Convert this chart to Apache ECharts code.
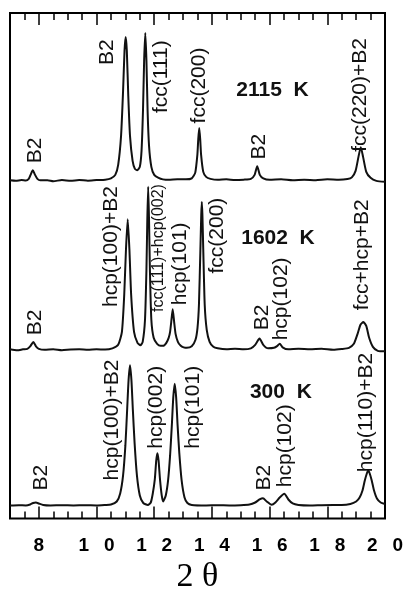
<!DOCTYPE html>
<html><head><meta charset="utf-8">
<script src="https://cdn.jsdelivr.net/npm/echarts@6/dist/echarts.min.js"></script>
<style>html,body{margin:0;padding:0;background:#fff}#c{width:407px;height:589px}</style>
</head><body><div id="c"></div>
<script>
// ---- data ----
const xTicks = [8, 10, 12, 14, 16, 18, 20];
const xTickLabels = ['8', '10', '12', '14', '16', '18', '20'];
const axisTitle = '2 θ';
const tempNames = ['2115  K', '1602  K', '300  K'];
// vertical offsets of the three stacked patterns (same units as intensity)
const offsets = [337.3, 168.5, 13];

// [2θ, intensity above baseline]
const trace2115 = [[7.0,0.5],[7.2,0],[7.4,0.8],[7.55,0.3],[7.65,2],[7.72,6.5],[7.79,10.7],[7.86,6.5],[7.95,2],[8.05,0.5],[8.3,0.7],[8.5,-0.3],[8.8,0.8],[9.1,0],[9.4,0.9],[9.7,0.2],[10.0,0.8],[10.3,1.2],[10.5,2.5],[10.65,6],[10.75,16],[10.85,45],[10.92,90],[10.97,130],[11.01,143.7],[11.05,130],[11.10,85],[11.16,45],[11.25,20],[11.33,12],[11.41,10.7],[11.50,14],[11.56,30],[11.61,70],[11.65,120],[11.69,147.7],[11.73,120],[11.77,70],[11.82,35],[11.90,14],[12.0,6],[12.15,3],[12.3,1.5],[12.5,1],[12.8,1.5],[13.1,1.5],[13.3,2.5],[13.42,8],[13.495,26],[13.527,42],[13.56,52.7],[13.593,42],[13.625,26],[13.70,9],[13.8,4],[13.95,2],[14.2,1],[14.5,1.5],[14.8,0.8],[15.1,1.2],[15.35,2],[15.48,6],[15.57,14.7],[15.66,6],[15.78,2.5],[16.0,1],[16.4,1.5],[16.8,0.5],[17.2,1.2],[17.6,0.6],[18.0,1.5],[18.4,1],[18.7,1.8],[18.85,3.5],[18.98,10],[19.08,24],[19.16,33.7],[19.24,24],[19.35,9],[19.5,3],[19.7,0],[20.0,-1]];

const trace1602 = [[7.0,0.5],[7.25,-0.5],[7.45,0.5],[7.6,1],[7.7,3.5],[7.81,7.8],[7.9,3.5],[8.0,1],[8.2,0],[8.5,0.5],[8.8,-0.5],[9.1,0.3],[9.4,0.5],[9.7,0],[10.0,0.5],[10.3,0.3],[10.55,1.5],[10.75,5],[10.88,18],[10.96,55],[11.02,100],[11.08,130.5],[11.14,100],[11.20,55],[11.30,18],[11.42,7],[11.52,4.5],[11.60,8],[11.68,30],[11.73,80],[11.76,130],[11.79,162.8],[11.82,130],[11.85,80],[11.90,30],[11.98,12],[12.10,6],[12.22,4],[12.31,4],[12.42,7],[12.50,12],[12.55,18],[12.59,28],[12.64,40.5],[12.69,28],[12.74,16],[12.82,8],[12.92,4],[13.02,2.5],[13.13,2],[13.3,3.5],[13.43,10],[13.50,22],[13.55,45],[13.60,100],[13.63,135],[13.65,147.8],[13.67,135],[13.70,100],[13.75,45],[13.82,20],[13.92,8],[14.05,3],[14.2,1.5],[14.5,0.5],[14.8,1],[15.1,0.5],[15.35,1.5],[15.5,5],[15.65,11.2],[15.78,5],[15.95,1.5],[16.15,2],[16.27,4],[16.35,6.2],[16.45,2.5],[16.65,0.5],[17.0,1],[17.4,0.5],[17.8,1],[18.2,0],[18.5,0.8],[18.75,2],[18.92,6],[19.05,16],[19.15,25],[19.25,27.8],[19.35,24],[19.45,12],[19.58,3],[19.75,-1],[20.0,-1.5]];

const trace300 = [[7.0,0],[7.3,0.3],[7.55,0],[7.7,1],[7.8,2.5],[7.9,3],[8.0,2],[8.15,0.5],[8.4,0],[8.8,0.3],[9.2,0],[9.6,0.3],[10.0,0],[10.3,0.5],[10.5,1],[10.7,4],[10.82,12],[10.92,30],[11.0,60],[11.06,95],[11.11,125],[11.16,140],[11.21,125],[11.26,95],[11.32,62],[11.40,30],[11.50,10],[11.62,2.5],[11.78,0.5],[11.88,3],[11.95,12],[12.02,26],[12.07,45],[12.11,52.3],[12.15,45],[12.20,26],[12.26,10],[12.31,4],[12.4,10],[12.48,25],[12.55,50],[12.61,80],[12.66,108],[12.71,121.7],[12.76,108],[12.81,80],[12.87,52],[12.95,25],[13.05,8],[13.15,2.5],[13.3,0.5],[13.8,0],[14.2,0.3],[14.6,0],[15.0,0.3],[15.3,1],[15.5,3],[15.65,6],[15.77,7.3],[15.9,4],[16.07,0.7],[16.2,3],[16.35,8],[16.51,11.7],[16.65,6],[16.8,2],[17.0,0.5],[17.4,0],[17.8,0.3],[18.2,0.5],[18.5,0.5],[18.8,1.5],[19.0,4],[19.12,8],[19.22,15],[19.3,25],[19.37,32],[19.42,35],[19.47,32],[19.54,25],[19.62,15],[19.72,7],[19.85,3],[20.0,1.5]];

// peak annotations: [2θ, height above baseline where text starts, text]
const labels2115 = [[7.87,17.7,'B2'],[10.38,115.7,'B2'],[12.25,67.7,'fcc(111)'],[13.55,57.4,'fcc(200)'],[15.63,21.4,'B2'],[19.13,29,'fcc(220)+B2']];
const labels1602 = [[7.89,14.5,'B2'],[10.52,42.8,'hcp(100)+B2'],[12.89,44.5,'hcp(101)'],[14.18,76.2,'fcc(200)'],[15.73,19.5,'B2'],[16.41,9.5,'hcp(102)'],[19.22,39.5,'fcc+hcp+B2']];
const labels1602small = [[12.16,37.8,'fcc(111)+hcp(002)']];
const labels300 = [[8.07,15,'B2'],[10.54,25,'hcp(100)+B2'],[12.08,56.7,'hcp(002)'],[13.34,56.7,'hcp(101)'],[15.81,15,'B2'],[16.53,18.3,'hcp(102)'],[19.36,33.3,'hcp(110)+B2']];
// temperature tags: [2θ, height above baseline]
const tempPos = [[16.10,90.7],[16.29,111.2],[16.39,113.3]];

// ---- chart ----
const traces = [trace2115, trace1602, trace300];
const SANS = '"Liberation Sans", Arial, sans-serif';

function lineSeries(tr, off) {
  return {
    type: 'line', xAxisIndex: 0, yAxisIndex: 0, symbol: 'none', smooth: 0.2,
    lineStyle: { color: '#111', width: 2 },
    data: tr.map(d => [d[0], d[1] + off]), silent: true
  };
}
function textSeries(items, off, font, rotate) {
  return {
    type: 'custom', coordinateSystem: 'cartesian2d', xAxisIndex: 0, yAxisIndex: 0,
    silent: true, clip: false,
    data: items.map(d => [d[0], d[1] + off]),
    renderItem: (params, api) => {
      const p = api.coord([api.value(0), api.value(1)]);
      const t = items[params.dataIndex][2];
      return {
        type: 'text', x: p[0], y: p[1], rotation: rotate ? Math.PI / 2 : 0,
        style: {
          text: t, fill: '#111', font: font,
          align: rotate ? 'left' : 'center', verticalAlign: 'middle',
          textAlign: rotate ? 'left' : 'center', textVerticalAlign: 'middle'
        }
      };
    }
  };
}

const halfTicks = [];
for (let i = 0; i <= 26; i++) halfTicks.push(7 + i * 0.5);

function xAx(pos, values, len, labels) {
  const a = {
    type: 'value', min: 7, max: 20, position: pos, gridIndex: 0,
    axisLine: { show: false }, splitLine: { show: false },
    axisTick: { show: true, inside: true, length: len, customValues: values,
      lineStyle: { color: '#000', width: 1.5 } },
    axisLabel: { show: false }
  };
  if (labels) {
    a.axisLabel = {
      show: true, customValues: xTicks, margin: 17.5, color: '#000',
      fontFamily: SANS, fontWeight: 'bold', fontSize: 19,
      formatter: v => {
        const i = xTicks.findIndex(t => Math.abs(t - v) < 1e-6);
        return i < 0 ? '' : xTickLabels[i].split('').join('\u2002 ');
      }
    };
    a.name = axisTitle; a.nameLocation = 'middle'; a.nameGap = 37.5;
    a.nameTextStyle = { fontFamily: '"Liberation Serif", "Times New Roman", serif', fontSize: 34, color: '#000' };
  }
  return a;
}

const series = [];
traces.forEach((tr, i) => series.push(lineSeries(tr, offsets[i])));
const rotFont = 'normal 21px ' + SANS;
series.push(textSeries(labels2115, offsets[0], rotFont, true));
series.push(textSeries(labels1602, offsets[1], rotFont, true));
series.push(textSeries(labels1602small, offsets[1], 'normal 16px ' + SANS, true));
series.push(textSeries(labels300, offsets[2], rotFont, true));
series.push(textSeries(tempPos.map((p, i) => [p[0], p[1] + offsets[i], tempNames[i]]), 0, 'bold 21px ' + SANS, false));

const chart = echarts.init(document.getElementById('c'), null, { renderer: 'canvas' });
chart.setOption({
  animation: false,
  backgroundColor: '#fff',
  grid: { left: 10, right: 22, top: 13, bottom: 70.5, show: true, borderColor: '#000', borderWidth: 2,
    backgroundColor: 'transparent', containLabel: false, outerBoundsMode: 'none' },
  xAxis: [
    xAx('bottom', xTicks, 12, true),
    xAx('bottom', halfTicks, 7, false),
    xAx('top', xTicks, 12, false),
    xAx('top', halfTicks, 7, false)
  ],
  yAxis: [{ type: 'value', min: 0, max: 505, show: false }],
  series: series
});
</script></body></html>
